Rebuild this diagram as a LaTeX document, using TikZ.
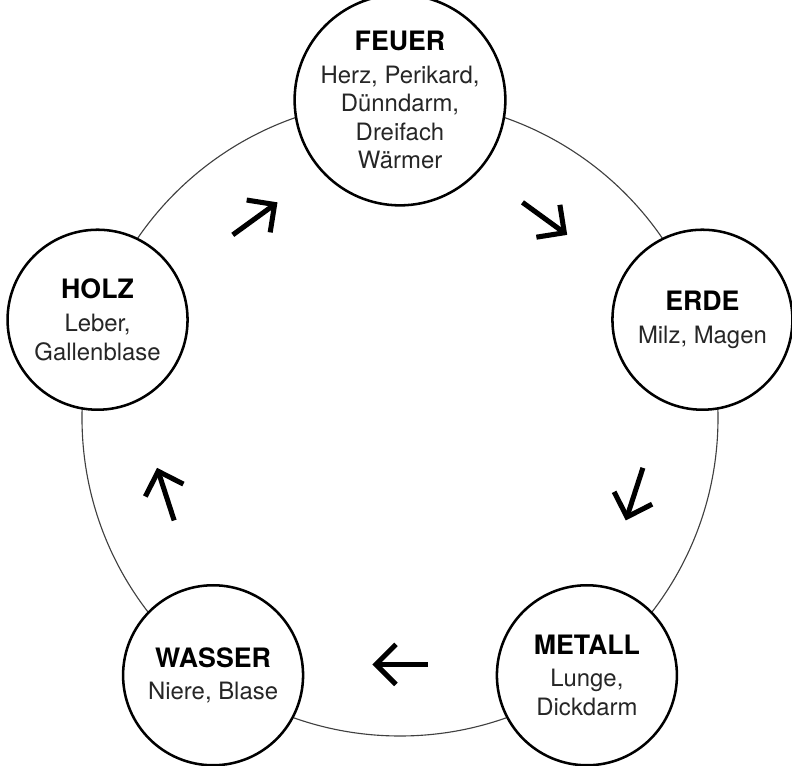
\documentclass[tikz,border=0pt]{standalone}
\usepackage{fontspec}
\setmainfont{TeX Gyre Heros}
\usetikzlibrary{arrows.meta}

\newcommand{\elname}[1]{{\fontsize{19}{20.3}\selectfont\bfseries\color{black}#1}}

\begin{document}
\begin{tikzpicture}[
    element/.style={circle, draw, fill=white, line width=1.8pt,
      minimum size=4.5cm, inner sep=0pt, align=center, text=black!85,
      font=\fontsize{17}{20.3}\selectfont},
    ring/.style={line width=0.8pt, black!75},
    flow/.style={line width=3.6pt, -{Straight Barb[length=5mm,width=10mm]}}]
    \useasboundingbox (-10,-8.7) rectangle (9.8,10.45);
    \draw[ring] (0,0) circle (7.95cm);
    % the five elements
    \node[element] (feuer) at (90:7.95)
      {\elname{FEUER}\\[3pt]Herz, Perikard,\\Dünndarm,\\Dreifach\\Wärmer};
    \node[element] (erde) at (18:7.95)
      {\elname{ERDE}\\[3pt]Milz, Magen};
    \node[element] (metall) at (-54:7.95)
      {\elname{METALL}\\[3pt]Lunge,\\Dickdarm};
    \node[element] (wasser) at (-126:7.95)
      {\elname{WASSER}\\[3pt]Niere, Blase};
    \node[element] (holz) at (162:7.95)
      {\elname{HOLZ}\\[3pt]Leber,\\Gallenblase};
    % arrows between them
    \draw[flow] (132.4:6.2) -- (119.6:6.2);
    \draw[flow] (60.4:6.2) -- (47.6:6.2);
    \draw[flow] (-11.6:6.2) -- (-24.4:6.2);
    \draw[flow] (-83.6:6.2) -- (-96.4:6.2);
    \draw[flow] (-155.6:6.2) -- (-168.4:6.2);
\end{tikzpicture}
\end{document}
